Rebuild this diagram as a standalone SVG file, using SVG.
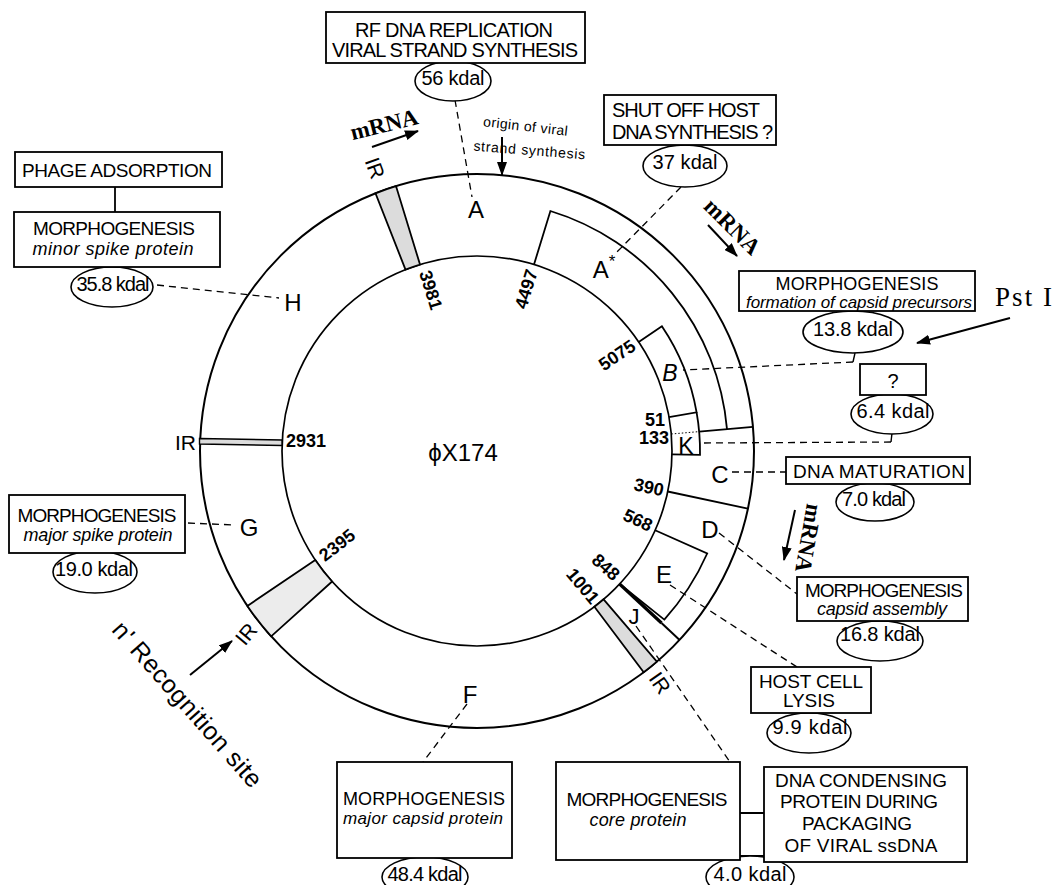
<svg xmlns="http://www.w3.org/2000/svg" width="1054" height="885" viewBox="0 0 1054 885">
<defs>
<style>
.box{fill:#fff;stroke:#000;stroke-width:1.8}
.ell{fill:#fff;stroke:#000;stroke-width:1.6}
.ln{fill:none;stroke:#000;stroke-width:1.8}
.ring{fill:none;stroke:#000;stroke-width:2}
.band{fill:#dcdcdc;stroke:#000;stroke-width:1.8}
.dash{fill:none;stroke:#000;stroke-width:1.3;stroke-dasharray:7 5}
.arr{fill:none;stroke:#000;stroke-width:2}
text{font-family:"Liberation Sans",Arial,sans-serif;fill:#000}
.t{font-size:19px;text-anchor:middle}
.it{font-style:italic;font-size:18px}
.kd{font-size:20px;text-anchor:middle}
.g{font-size:24px;text-anchor:middle}
.n{font-size:18px;font-weight:bold;text-anchor:middle}
.s{font-family:"Liberation Serif","Times New Roman",serif;font-weight:bold;font-size:23px;text-anchor:middle}
.sm{font-size:14px;text-anchor:middle}
.ir{font-size:21px;text-anchor:middle}
</style>
<marker id="ah" markerUnits="userSpaceOnUse" markerWidth="14" markerHeight="10" viewBox="0 0 14 10" refX="13" refY="5" orient="auto"><path d="M0,0 L14,5 L0,10 Z" fill="#000"/></marker>
</defs>
<rect width="1054" height="885" fill="#fff"/>

<g id="map">
<circle class="ring" cx="477" cy="451" r="277"/>
<circle class="ring" cx="477" cy="451" r="195" style="stroke-width:1.7"/>
<path class="band" d="M405.5,269.6 L375.5,193.3 A277,277 0 0 1 396.0,186.1 L420.0,264.5 A195,195 0 0 0 405.5,269.6 Z"/>
<path class="band" d="M603.6,599.3 L656.9,661.6 A277,277 0 0 1 643.7,672.2 L594.4,606.7 A195,195 0 0 0 603.6,599.3 Z"/>
<path class="band" d="M332.1,581.5 L271.2,636.3 A277,277 0 0 1 247.4,605.9 L315.3,560.0 A195,195 0 0 0 332.1,581.5 Z" style="fill:#ececec"/>
<path class="band" d="M199.5,438.5 L282,440 L282,445.5 L199.5,444 Z" style="stroke-width:1.4"/>
<path class="ln" d="M534.0,264.5 L550.4,211.0 A251,251 0 0 1 727.0,429.1"/>
<path class="ln" d="M699.2,431.6 L752.9,426.8"/>
<path class="ln" d="M638.7,342.0 L661.9,326.3 A223,223 0 0 1 696.6,412.3 L669.0,417.1"/>
<path class="ln" d="M696.6,412.3 A223,223 0 0 1 700.0,454.9 L672.0,454.4"/>
<path d="M671.3,434.0 L699.2,431.6" fill="none" stroke="#000" stroke-width="1" stroke-dasharray="1.5 2"/>
<path class="ln" d="M667.7,491.5 L747.9,508.6"/>
<path class="ln" d="M655.1,530.3 L707.2,553.5 A252,252 0 0 1 664.3,619.6 L619.6,584.0"/>
<path class="ln" d="M619.6,584.0 L661.5,623.0" style="stroke-width:3.2"/>
<path class="ln" d="M661.5,623.0 L679.6,639.9" style="stroke-width:2"/>

<text class="g" x="476" y="218">A</text>
<text class="g" x="604" y="278">A<tspan font-size="17" dy="-11">*</tspan></text>
<text class="g it" x="670" y="381" style="font-size:23px">B</text>
<text class="g" x="686" y="454" style="font-size:23px">K</text>
<text class="g" x="720" y="483">C</text>
<text class="g" x="710" y="538">D</text>
<text class="g" x="664" y="583">E</text>
<text class="g" x="634" y="624" style="font-size:22px">J</text>
<text class="g" x="470" y="703">F</text>
<text class="g" x="249" y="536">G</text>
<text class="g" x="293" y="311">H</text>

<text class="n" transform="translate(431,290) rotate(73)" dy="0.35em">3981</text>
<text class="n" transform="translate(526,289) rotate(-73)" dy="0.35em">4497</text>
<text class="n" transform="translate(617,355) rotate(-34)" dy="0.35em">5075</text>
<text class="n" x="655" y="426">51</text>
<text class="n" x="654" y="444">133</text>
<text class="n" transform="translate(649,487) rotate(12)" dy="0.35em">390</text>
<text class="n" transform="translate(638,520) rotate(25)" dy="0.35em">568</text>
<text class="n" transform="translate(606,567) rotate(42)" dy="0.35em">848</text>
<text class="n" transform="translate(583,586) rotate(50)" dy="0.35em">1001</text>
<text class="n" transform="translate(337,545) rotate(-38)" dy="0.35em">2395</text>
<text class="n" x="286" y="447" style="text-anchor:start">2931</text>

<text x="463" y="461" style="font-size:24px;text-anchor:middle">ϕX174</text>

<text class="ir" transform="translate(375,168) rotate(70)" dy="0.35em">IR</text>
<text x="175" y="450" style="font-size:21px">IR</text>
<text class="ir" transform="translate(246,634) rotate(-50)" dy="0.35em">IR</text>
<text class="ir" transform="translate(660,683) rotate(55)" dy="0.35em">IR</text>

<text class="sm" transform="translate(525,131) rotate(6.5)" textLength="85">origin of viral</text>
<text class="sm" transform="translate(529,155) rotate(4.5)" textLength="112">strand synthesis</text>

<text class="s" transform="translate(386,132) rotate(-14)">mRNA</text>
<text class="s" transform="translate(727,232) rotate(45)">mRNA</text>
<text class="s" transform="translate(801,537) rotate(100)">mRNA</text>

<text x="995" y="306" style="font-family:'Liberation Serif','Times New Roman',serif;font-size:27px" textLength="57">Pst I</text>
<text transform="translate(181,710) rotate(48.5)" style="font-size:25px;text-anchor:middle" textLength="212">n' Recognition site</text>
</g>

<g id="connectors">
<path class="dash" d="M455,100 L472,197"/>
<path class="dash" d="M681,187 L614,255"/>
<path class="ln" d="M855,353 L853,362" style="stroke-width:1.4"/>
<path class="dash" d="M853,362 L683,370"/>
<path class="ln" d="M892,433 L891,442" style="stroke-width:1.4"/>
<path class="dash" d="M891,442 L703,443"/>
<path class="dash" d="M732,472 L786,472"/>
<path class="dash" d="M719,533 L797,594"/>
<path class="dash" d="M670,585 L797,667"/>
<path class="dash" d="M636,626 L730,762"/>
<path class="dash" d="M467,704 L423,762"/>
<path class="dash" d="M188,523 L236,525"/>
<path class="dash" d="M157,285 L279,298"/>
<path class="ln" d="M115,187 L115,212"/>
<path class="ln" d="M740,813 L764,813 M740,856 L764,856"/>
<path class="arr" d="M502,137 L502,175" marker-end="url(#ah)"/>
<path class="arr" d="M372,147 L418,131" marker-end="url(#ah)"/>
<path class="arr" d="M708,225 L737,256" marker-end="url(#ah)"/>
<path class="arr" d="M795,510 L784,560" marker-end="url(#ah)"/>
<path class="arr" d="M1010,318 L917,343" marker-end="url(#ah)"/>
<path class="arr" d="M190,675 L232,641" marker-end="url(#ah)"/>
</g>

<g id="geneA">
<ellipse class="ell" cx="453" cy="81" rx="38" ry="20"/>
<rect class="box" x="326" y="12" width="259" height="51"/>
<text class="t" x="454" y="37" textLength="198" style="font-size:20px">RF DNA REPLICATION</text>
<text class="t" x="455" y="57" textLength="246" style="font-size:20px">VIRAL STRAND SYNTHESIS</text>
<text class="kd" x="453" y="85" textLength="63">56 kdal</text>
</g>

<g id="geneAstar">
<ellipse class="ell" cx="685" cy="166" rx="42" ry="21"/>
<rect class="box" x="604" y="95" width="172" height="50"/>
<text x="612" y="117" textLength="148" style="font-size:20px">SHUT OFF HOST</text>
<text x="612" y="139" textLength="161" style="font-size:20px">DNA SYNTHESIS ?</text>
<text class="kd" x="685" y="169" textLength="65">37 kdal</text>
</g>

<g id="geneB">
<ellipse class="ell" cx="853" cy="332" rx="50" ry="21"/>
<rect class="box" x="739" y="271" width="236" height="40"/>
<text class="t" x="857" y="290" textLength="163" style="font-size:18px">MORPHOGENESIS</text>
<text class="t it" x="859" y="308" textLength="226" style="font-size:17px">formation of capsid precursors</text>
<text class="kd" x="853" y="336" textLength="80">13.8 kdal</text>
</g>

<g id="geneK">
<ellipse class="ell" cx="892" cy="414" rx="41" ry="20"/>
<rect class="box" x="860" y="364" width="66" height="31"/>
<text class="kd" x="893" y="388">?</text>
<text class="kd" x="893" y="418" textLength="73">6.4 kdal</text>
</g>

<g id="geneC">
<ellipse class="ell" cx="875" cy="502" rx="39" ry="19"/>
<rect class="box" x="786" y="457" width="184" height="27"/>
<text class="t" x="879" y="478" textLength="172">DNA MATURATION</text>
<text class="kd" x="874" y="506" textLength="64">7.0 kdal</text>
</g>

<g id="geneD">
<ellipse class="ell" cx="880" cy="641" rx="43" ry="20"/>
<rect class="box" x="797" y="577" width="171" height="44"/>
<text class="t" x="884" y="597" textLength="158">MORPHOGENESIS</text>
<text class="t it" x="882" y="615" textLength="130">capsid assembly</text>
<text class="kd" x="880" y="641" textLength="80">16.8 kdal</text>
</g>

<g id="geneE">
<ellipse class="ell" cx="809" cy="733" rx="42" ry="20"/>
<rect class="box" x="751" y="667" width="120" height="46"/>
<text class="t" x="811" y="688" textLength="104">HOST CELL</text>
<text class="t" x="809" y="707" textLength="52">LYSIS</text>
<text class="kd" x="810" y="734" textLength="75">9.9 kdal</text>
</g>

<g id="geneJ">
<ellipse class="ell" cx="750" cy="877" rx="44" ry="21"/>
<rect class="box" x="556" y="762" width="184" height="98"/>
<rect class="box" x="764" y="767" width="203" height="95"/>
<text class="t" x="647" y="806" textLength="161">MORPHOGENESIS</text>
<text class="t it" x="638" y="826" textLength="97">core protein</text>
<text class="t" x="861" y="787" textLength="172">DNA CONDENSING</text>
<text class="t" x="859" y="808" textLength="158">PROTEIN DURING</text>
<text class="t" x="857" y="830" textLength="110">PACKAGING</text>
<text class="t" x="861" y="852" textLength="153">OF VIRAL ssDNA</text>
<text class="kd" x="750" y="881" textLength="73">4.0 kdal</text>
</g>

<g id="geneF">
<ellipse class="ell" cx="425" cy="877" rx="43" ry="20"/>
<rect class="box" x="337" y="762" width="175" height="96"/>
<text class="t" x="424" y="805" textLength="162" style="font-size:18px">MORPHOGENESIS</text>
<text class="t it" x="423" y="824" textLength="160" style="font-size:17px">major capsid protein</text>
<text class="kd" x="425" y="881" textLength="75">48.4 kdal</text>
</g>

<g id="geneG">
<ellipse class="ell" cx="95" cy="572" rx="42" ry="21"/>
<rect class="box" x="9" y="495" width="176" height="58"/>
<text class="t" x="97" y="522" textLength="159">MORPHOGENESIS</text>
<text class="t it" x="98" y="541" textLength="149">major spike protein</text>
<text class="kd" x="94" y="576" textLength="78">19.0 kdal</text>
</g>

<g id="geneH">
<rect class="box" x="15" y="152" width="207" height="35"/>
<text class="t" x="117" y="177" textLength="190">PHAGE ADSORPTION</text>
<ellipse class="ell" cx="112" cy="287" rx="41" ry="20"/>
<rect class="box" x="14" y="212" width="206" height="55"/>
<text class="t" x="114" y="235" textLength="162">MORPHOGENESIS</text>
<text class="t it" x="113" y="255" textLength="161">minor spike protein</text>
<text class="kd" x="113" y="291" textLength="73">35.8 kdal</text>
</g>
</svg>
